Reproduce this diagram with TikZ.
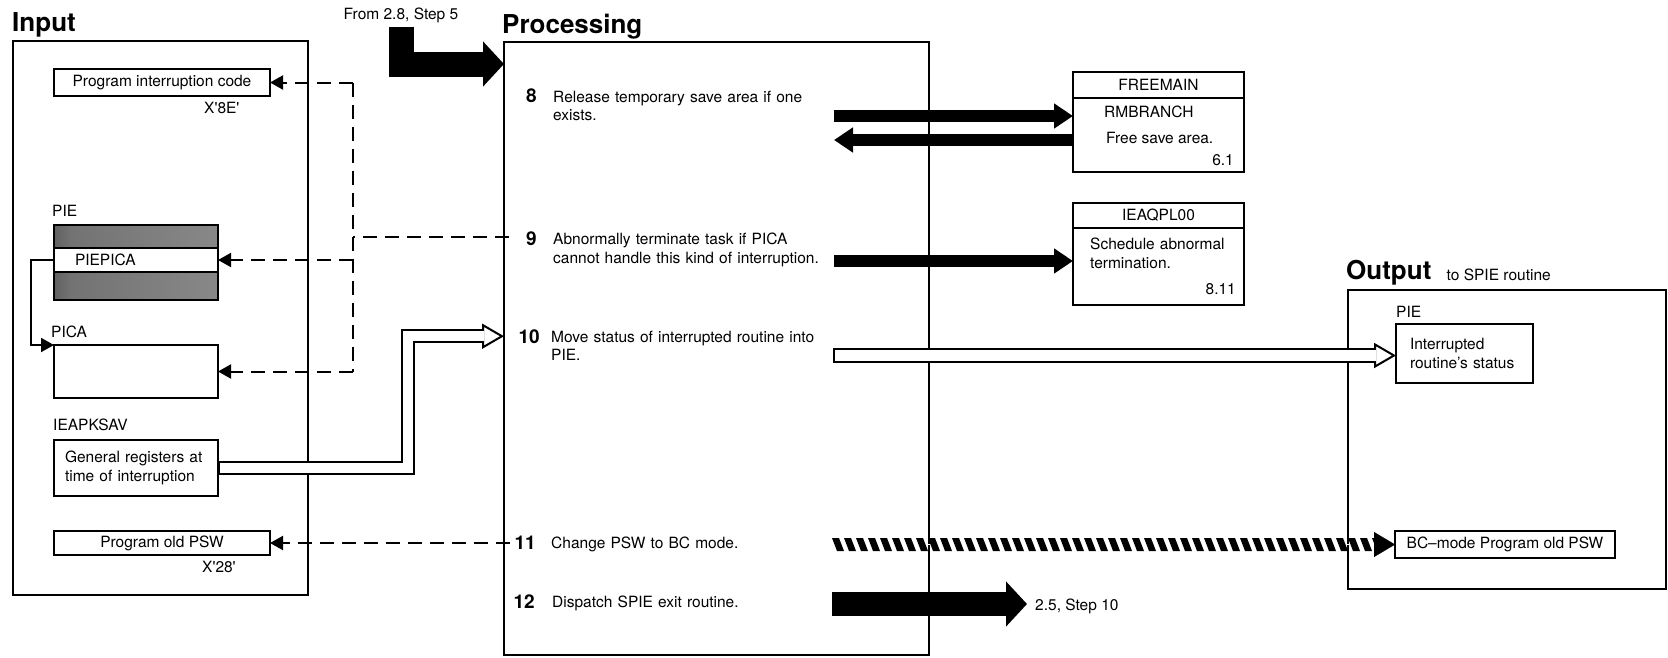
\documentclass[tikz,border=0pt]{standalone}
\usepackage{fontspec}
\setmainfont{TeX Gyre Heros}
\usepackage{tikz}
\usetikzlibrary{positioning,arrows.meta,decorations.markings}
\newcommand{\bodysize}{\fontsize{15.5}{18.5}\selectfont}
\pgfdeclarehorizontalshading{piegrain}{100bp}{color(0bp)=(black!95); color(12bp)=(black!80); color(30bp)=(black!55); color(100bp)=(black!42)}

\begin{document}
\begin{tikzpicture}[x=1pt,y=-1pt,
  bigbox/.style={draw,line width=2.6pt,inner sep=0pt,outer sep=0pt,anchor=north west},
  smallbox/.style={draw,line width=1.8pt,inner sep=0pt,outer sep=0pt,anchor=north west,font=\bodysize},
  pieband/.style={draw,line width=1.8pt,inner sep=0pt,outer sep=0pt,anchor=north west,minimum width=164pt,shade,shading=piegrain},
  lbl/.style={inner sep=0pt,anchor=base west,font=\bodysize},
  heading/.style={inner sep=0pt,anchor=base west,font=\fontsize{26}{30}\selectfont\bfseries},
  stepnum/.style={inner sep=0pt,anchor=base east,font=\fontsize{19}{22}\selectfont\bfseries},
  steptxt/.style={inner sep=0pt,anchor=base west,text width=300pt,align=left,font=\bodysize},
  fat/.style={line width=12pt,-{Triangle[length=19pt,width=24pt]}},
  heavy/.style={line width=25pt,-{Triangle[length=21pt,width=44pt]}},
  hollow/.style={line width=14.5pt,-{Triangle[length=22pt,width=25pt,fill=white,line width=2pt]},
    postaction={draw=white,line width=10.5pt,shorten >=20pt,shorten <=2pt,-}},
  hatched/.style={draw=white,line width=0.1pt,-{Triangle[color=black,length=21pt,width=25pt]},
    postaction={decorate},decoration={markings,
      mark=between positions 0 and -21pt step 12pt with {\fill[black] (0pt,6.5pt) -- (7pt,6.5pt) -- (12pt,-6.5pt) -- (5pt,-6.5pt) -- cycle;}}},
  link/.style={line width=1.8pt,-{Triangle[length=13pt,width=14pt]}},
  dashlink/.style={line width=2pt,dash pattern=on 14pt off 8pt},
  dasharrow/.style={dashlink,-{Triangle[length=13pt,width=14pt]}}]
  \useasboundingbox (0,0) rectangle (1668,657);

  % input side
  \node[heading] (intitle) at (12,31) {Input};
  \node[bigbox,minimum width=295pt,minimum height=554pt] (inbox) at (13,41) {};
  \node[smallbox,minimum width=216pt,minimum height=27pt] (pic) at (54,69) {Program interruption code};
  \node[lbl] (x8e) at (204,113) {X\textquotesingle 8E\textquotesingle};
  \node[lbl] (pielbl) at (52,216) {PIE};
  \node[pieband,minimum height=23pt] (pietop) at (54,225) {};
  \node[smallbox,fill=white,text width=122pt,inner xsep=21pt,minimum height=24pt,align=left] (piepica) at (54,248) {PIEPICA};
  \node[pieband,minimum height=28pt] (piebot) at (54,272) {};
  \node[lbl] (picalbl) at (51,337) {PICA};
  \node[smallbox,minimum width=164pt,minimum height=53pt] (pica) at (54,345) {};
  \node[lbl] (ksavlbl) at (53,430) {IEAPKSAV};
  \node[smallbox,text width=142pt,inner xsep=11pt,minimum height=56pt,align=left] (gen) at (54,440) {General registers at\\time of interruption};
  \node[smallbox,minimum width=216pt,minimum height=24pt] (oldpsw) at (54,531) {Program old PSW};
  \node[lbl] (x28) at (202,572) {X\textquotesingle 28\textquotesingle};
  \draw[link] (piepica.west) -- ++(-23,0) |- (pica.north west);

  % processing
  \node[lbl,anchor=base] (from28) at (401,19) {From 2.8, Step 5};
  \node[heading] (proctitle) at (502,33) {Processing};
  \node[bigbox,minimum width=425pt,minimum height=613pt] (proc) at (504,42) {};
  \node[stepnum] (n8) at (537,102) {8};
  \node[steptxt] (t8) at (553,102) {Release temporary save area if one\\exists.};
  \node[stepnum] (n9) at (537,245) {9};
  \node[steptxt] (t9) at (553,244.5) {Abnormally terminate task if PICA\\cannot handle this kind of interruption.};
  \node[stepnum] (n10) at (540,343) {10};
  \node[steptxt] (t10) at (551,342) {Move status of interrupted routine into\\PIE.};
  \node[stepnum] (n11) at (536,549) {11};
  \node[steptxt] (t11) at (551,548.5) {Change PSW to BC mode.};
  \node[stepnum] (n12) at (535,608) {12};
  \node[steptxt] (t12) at (552,607.5) {Dispatch SPIE exit routine.};
  \node[lbl] (to25) at (1035,610) {2.5, Step 10};

  % called routines
  \node[smallbox,minimum width=171pt,minimum height=26pt] (fmhead) at (1073,72) {FREEMAIN};
  \node[smallbox,minimum width=171pt,minimum height=74pt] (fmbody) at (fmhead.south west) {};
  \node[lbl] (rmb) at (1104,117.5) {RMBRANCH};
  \node[lbl] (fsa) at (1106,143) {Free save area.};
  \node[lbl,anchor=base east] (fm61) at (1234,165) {6.1};
  \node[smallbox,minimum width=171pt,minimum height=25pt] (qphead) at (1073,203) {IEAQPL00};
  \node[smallbox,minimum width=171pt,minimum height=77pt] (qpbody) at (qphead.south west) {};
  \node[steptxt] (qptxt) at (1090,249.5) {Schedule abnormal\\termination.};
  \node[lbl,anchor=base east] (qp811) at (1236,294) {8.11};

  % output side
  \node[heading] (outtitle) at (1346,279.5) {Output};
  \node[lbl] (tospie) at (1446.5,280) {to SPIE routine};
  \node[bigbox,minimum width=318pt,minimum height=299pt] (outbox) at (1348,290) {};
  \node[lbl] (opielbl) at (1396,317) {PIE};
  \node[smallbox,text width=109pt,inner xsep=14pt,minimum height=59pt,align=left] (intr) at (1396,324) {Interrupted\\routine's status};
  \node[smallbox,minimum width=220pt,minimum height=27pt] (bcpsw) at (1395,531) {BC–mode Program old PSW};

  % free ends of the connectors
  \coordinate (dj) at (353,237);
  \coordinate (d9) at (509,237);
  \coordinate (d11) at (510,543);
  \coordinate (s8out) at (834,116);
  \coordinate (s8in) at (834,140);
  \coordinate (s9out) at (834,261);
  \coordinate (s10out) at (833,355.5);
  \coordinate (s11out) at (832,544.5);
  \coordinate (s12out) at (832,604);
  \coordinate (genbend) at (408,0);

  \draw[heavy] ([yshift=-4pt]from28.south) |- (proc.west |- 0,64);
  \draw[dashlink] (d9) -- (dj);
  \draw[dashlink] (dj |- pic.east) -- (dj |- pica.east);
  \draw[dasharrow] (dj |- pic.east) -- (pic.east);
  \draw[dasharrow] (dj |- piepica.east) -- (piepica.east);
  \draw[dasharrow] (dj |- pica.east) -- (pica.east);
  \draw[dasharrow] (d11) -- (oldpsw.east);
  \draw[hollow] (gen.east) -| (genbend |- n10) -- (proc.west |- n10);
  \draw[fat] (s8out) -- (s8out -| fmbody.west);
  \draw[fat] (s8in -| fmbody.west) -- (s8in);
  \draw[fat] (s9out) -- (s9out -| qpbody.west);
  \draw[hollow] (s10out) -- (s10out -| intr.west);
  \draw[hatched] (s11out) -- (bcpsw.west);
  \draw[heavy,line width=24pt,shorten >=8pt] (s12out) -- (s12out -| to25.west);
\end{tikzpicture}
\end{document}
